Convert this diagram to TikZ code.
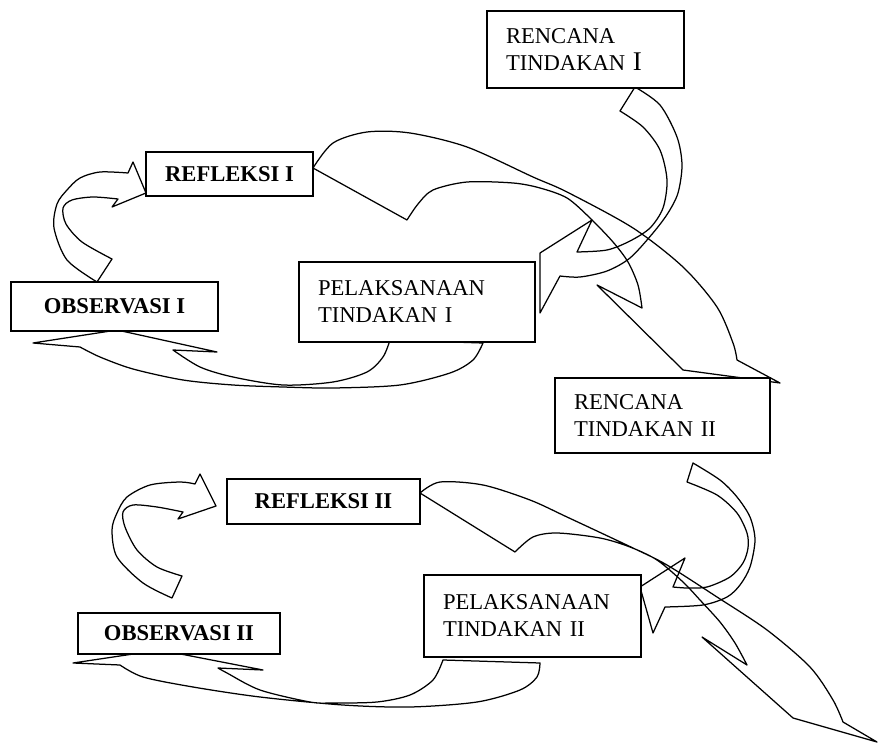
\documentclass[tikz,border=0pt]{standalone}
\usepackage{fontspec}
\setmainfont{Liberation Serif}
\usepackage{tikz}

\begin{document}
\begin{tikzpicture}[
  x=1pt, y=-1pt,
  font=\fontsize{22.6}{27}\selectfont,
  stage/.style={draw, line width=1.5pt, fill=white, inner xsep=19pt, inner ysep=2pt, align=left},
  keystage/.style={draw, line width=1.5pt, fill=white, font=\fontsize{22.6}{27}\selectfont\bfseries, inner sep=0pt},
  flow/.style={draw, line width=1.25pt, line join=round}
]
\useasboundingbox (0,0) rectangle (879,746);

% cycle I: observasi -> refleksi
\draw[flow] plot[smooth] coordinates {(97,282) (67,260) (54,228) (57,204) (67,190) (80,178) (100,172) (128,173)}
  -- (133,162) -- (146,193) -- (112,207) -- (118,199)
  -- plot[smooth] coordinates {(118,199) (93,197) (72,200) (63,208) (66,224) (82,242) (112,259)} -- cycle;
% rencana I -> pelaksanaan I
\draw[flow] plot[smooth] coordinates {(635,87) (660,105) (677,137) (682,165) (678,193) (668,213) (653,233) (630,258) (607,271) (580,277) (560,276)}
  -- (540,313) -- (540,253) -- (592,220) -- (577,252)
  -- plot[smooth] coordinates {(577,252) (607,250) (630,241) (650,228) (663,208) (667,180) (660,150) (643,127) (620,111)} -- cycle;
% refleksi I -> rencana II
\draw[flow] plot[smooth] coordinates {(313,168) (333,143) (367,132) (410,133) (467,147) (533,177) (567,192) (633,228) (683,267) (717,307) (733,343) (737,360)}
  -- (780,383) -- (683,370) -- (597,285) -- (642,308)
  -- plot[smooth] coordinates {(642,308) (638,285) (628,262) (613,242) (590,218) (567,198) (540,188) (513,183) (467,182) (433,190) (418,204) (407,220)} -- cycle;
% pelaksanaan I -> observasi I
\draw[flow] plot[smooth] coordinates {(483,343) (473,360) (450,373) (400,385) (333,388) (283,387) (233,385) (183,380) (133,369) (100,357) (80,347)}
  -- (33,343) -- (117,330) -- (217,352) -- (173,350)
  -- plot[smooth] coordinates {(173,350) (200,367) (233,377) (283,385) (333,382) (367,372) (383,357) (390,340)} -- cycle;

% cycle II: observasi -> refleksi
\draw[flow] plot[smooth] coordinates {(172,598) (143,583) (117,557) (112,530) (117,513) (127,497) (150,485) (180,482) (195,484)}
  -- (200,474) -- (216,506) -- (178,519) -- (183,512)
  -- plot[smooth] coordinates {(183,512) (157,507) (133,505) (123,512) (125,527) (137,550) (157,567) (182,576)} -- cycle;
% rencana II -> pelaksanaan II
\draw[flow] plot[smooth] coordinates {(693,463) (720,480) (737,497) (750,517) (755,540) (750,567) (740,585) (727,597) (703,605) (665,607)}
  -- (653,633) -- (640,587) -- (685,558) -- (673,587)
  -- plot[smooth] coordinates {(673,587) (687,588) (707,587) (730,577) (743,563) (748,548) (747,533) (737,513) (717,495) (687,482)} -- cycle;
% refleksi II -> next cycle
\draw[flow] plot[smooth] coordinates {(420,493) (440,482) (483,485) (530,500) (567,517) (633,548) (667,565) (717,597) (767,630) (810,667) (833,700) (843,722)}
  -- (877,742) -- (793,718) -- (702,637) -- (747,665)
  -- plot[smooth] coordinates {(747,665) (735,643) (720,622) (700,600) (683,582) (657,560) (630,547) (600,538) (557,533) (533,537) (515,552)} -- cycle;
% pelaksanaan II -> observasi II
\draw[flow] plot[smooth] coordinates {(540,663) (537,677) (520,690) (477,702) (410,707) (343,705) (260,697) (193,687) (143,677) (120,665)}
  -- (73,663) -- (160,650) -- (263,670) -- (218,668)
  -- plot[smooth] coordinates {(218,668) (227,673) (260,690) (310,702) (333,703) (377,702) (410,695) (433,680) (443,660)} -- cycle;

% stages
\node[stage, text width=159pt, minimum height=77pt] (ren1) at (585.5,49.5) {RENCANA\\TINDAKAN {\fontsize{27}{27}\selectfont I}};
\node[keystage, minimum width=167pt, minimum height=44pt] (ref1) at (229.5,174) {REFLEKSI I};
\node[keystage, minimum width=207pt, minimum height=49pt] (obs1) at (114.5,306.5) {OBSERVASI I};
\node[stage, text width=198pt, minimum height=80pt] (pel1) at (417,302) {PELAKSANAAN\\TINDAKAN I};
\node[stage, text width=177pt, minimum height=75pt] (ren2) at (662.5,415.5) {RENCANA\\TINDAKAN II};
\node[keystage, minimum width=193pt, minimum height=45pt] (ref2) at (323.5,501.5) {REFLEKSI II};
\node[keystage, minimum width=202pt, minimum height=41pt] (obs2) at (179,633.5) {OBSERVASI II};
\node[stage, text width=179pt, minimum height=82pt] (pel2) at (532.5,616) {PELAKSANAAN\\TINDAKAN II};
\end{tikzpicture}
\end{document}
